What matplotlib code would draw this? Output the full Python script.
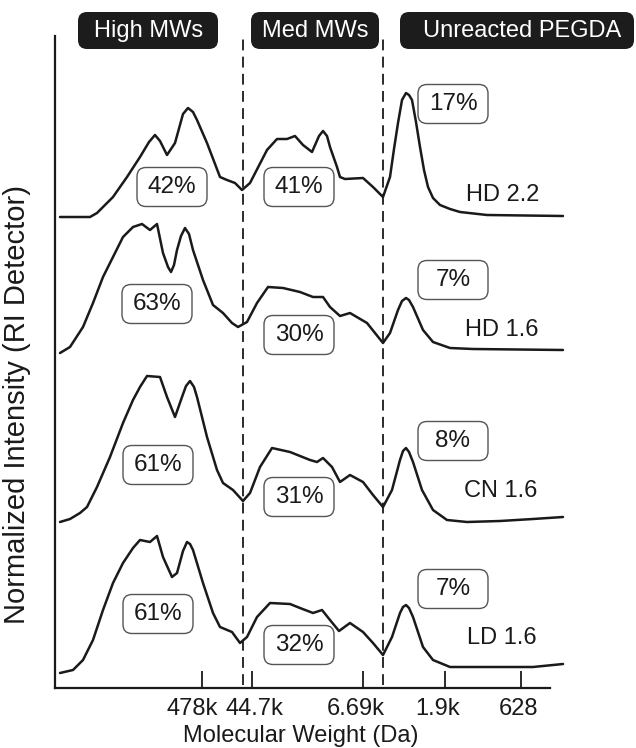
import matplotlib
matplotlib.use("Agg")
import matplotlib.pyplot as plt
import matplotlib.transforms as mtransforms
from matplotlib.patches import FancyBboxPatch

plt.rcParams['font.family'] = ['Liberation Sans', 'DejaVu Sans']

# ---------------- data ----------------
# elution position (arbitrary units) and detector signal above each trace's baseline
hd22_x = [0.5, 3.5, 4.2, 5.8, 7.2, 8.5, 9.4, 10.0, 10.5, 11.2, 12.0, 12.8, 13.3, 13.8, 14.2, 15.2,
          16.5, 17.2, 18.0, 18.7, 19.5, 21.2, 22.2, 23.2, 24.0, 24.8, 25.7, 26.4, 26.8, 27.2,
          27.5, 28.2, 28.5, 29.0, 30.8, 31.8, 32.8, 33.5, 33.9, 34.3, 34.7, 35.1, 35.4, 35.7,
          36.1, 36.5, 36.9, 37.3, 37.8, 38.5, 39.5, 40.5, 43.2, 50.8]
hd22_y = [0.00, 0.00, 0.04, 0.20, 0.40, 0.60, 0.75, 0.82, 0.76, 0.62, 0.74, 1.03, 1.09, 1.05, 0.97, 0.74,
          0.40, 0.37, 0.34, 0.27, 0.34, 0.67, 0.78, 0.78, 0.81, 0.72, 0.65, 0.81, 0.86, 0.81,
          0.70, 0.50, 0.40, 0.38, 0.39, 0.30, 0.20, 0.40, 0.68, 0.94, 1.17, 1.24, 1.22, 1.17,
          0.95, 0.70, 0.47, 0.30, 0.19, 0.12, 0.08, 0.05, 0.02, 0.01]

hd16_x = [0.5, 1.5, 2.8, 3.8, 4.8, 5.8, 6.8, 7.8, 8.7, 9.5, 10.2, 10.8, 11.3, 11.6, 11.9,
          12.2, 12.6, 13.0, 13.4, 13.8, 14.8, 15.8, 16.8, 17.7, 18.3, 19.2, 20.2, 21.3, 22.8, 24.5,
          25.8, 26.8, 27.5, 28.5, 29.5, 31.2, 32.8, 33.5, 34.3, 34.7, 35.1, 35.4, 35.8, 36.8, 37.8,
          39.5, 41.8, 50.8]
hd16_y = [0.00, 0.06, 0.26, 0.50, 0.76, 0.96, 1.16, 1.26, 1.29, 1.23, 1.29, 1.00, 0.86, 0.81, 0.88,
          1.03, 1.17, 1.25, 1.19, 1.03, 0.73, 0.48, 0.40, 0.30, 0.26, 0.31, 0.50, 0.66, 0.65, 0.61,
          0.56, 0.56, 0.46, 0.37, 0.40, 0.30, 0.10, 0.20, 0.43, 0.52, 0.55, 0.53, 0.46, 0.23, 0.11,
          0.05, 0.04, 0.03]

cn16_x = [0.5, 1.5, 2.5, 3.2, 4.2, 5.5, 6.8, 7.8, 8.5, 9.2, 10.5, 11.2, 12.0, 12.7, 13.1,
          13.5, 13.9, 14.2, 15.2, 16.2, 16.8, 17.8, 18.8, 19.5, 20.5, 21.7, 23.5, 25.5, 26.2, 26.8,
          27.7, 28.5, 29.5, 30.8, 31.8, 32.8, 33.7, 34.5, 34.8, 35.1, 35.4, 35.8, 36.7, 37.8, 39.2,
          41.2, 44.5, 47.8, 50.8]
cn16_y = [0.00, 0.03, 0.09, 0.15, 0.35, 0.65, 0.99, 1.22, 1.35, 1.46, 1.45, 1.25, 1.05, 1.25, 1.36,
          1.41, 1.35, 1.25, 0.85, 0.52, 0.39, 0.32, 0.21, 0.29, 0.55, 0.74, 0.70, 0.62, 0.60, 0.64,
          0.55, 0.40, 0.47, 0.40, 0.27, 0.15, 0.32, 0.62, 0.71, 0.74, 0.70, 0.60, 0.32, 0.12, 0.02,
          0.00, 0.01, 0.03, 0.05]

ld16_x = [0.5, 1.8, 2.8, 3.8, 4.8, 5.8, 6.8, 7.8, 8.5, 9.5, 10.2, 10.8, 11.7, 12.2, 12.8,
          13.2, 13.5, 13.8, 14.8, 15.8, 16.5, 17.7, 18.5, 19.2, 20.2, 21.5, 23.5, 24.5, 25.8, 26.7,
          27.5, 28.4, 29.5, 30.8, 31.8, 32.8, 33.7, 34.5, 34.8, 35.1, 35.4, 35.8, 36.8, 37.8, 39.5,
          41.8, 47.8, 50.8]
ld16_y = [0.00, 0.03, 0.13, 0.33, 0.63, 0.90, 1.10, 1.25, 1.33, 1.31, 1.37, 1.16, 0.96, 1.00, 1.22,
          1.31, 1.29, 1.23, 0.90, 0.60, 0.46, 0.41, 0.30, 0.36, 0.56, 0.70, 0.69, 0.65, 0.60, 0.63,
          0.53, 0.42, 0.50, 0.41, 0.30, 0.18, 0.36, 0.60, 0.66, 0.68, 0.65, 0.56, 0.26, 0.13, 0.06,
          0.06, 0.06, 0.09]

samples = ['HD 2.2', 'HD 1.6', 'CN 1.6', 'LD 1.6']
trace_x = [hd22_x, hd16_x, cn16_x, ld16_x]
trace_y = [hd22_y, hd16_y, cn16_y, ld16_y]
offsets = [4.71, 3.35, 1.66, 0.15]

high_pct = [42, 63, 61, 61]
med_pct = [41, 30, 31, 32]
unreacted_pct = [17, 7, 8, 7]

region_names = ['High MWs', 'Med MWs', 'Unreacted PEGDA']
region_bounds = [18.8, 32.8]

tick_pos = [14.7, 19.7, 30.8, 39.0, 46.6]
tick_labels = ['478k', '44.7k', '6.69k', '1.9k', '628']

# ---------------- layout ----------------
W, H = 636, 748
fig = plt.figure(figsize=(W / 100, H / 100), dpi=100)
ax = fig.add_axes([55 / W, (H - 688) / H, 510 / W, (688 - 36) / H])
ax.set_xlim(0, 51)
ax.set_ylim(0, 6.52)

ink = '#1a1a1a'
for s in ['top', 'right']:
    ax.spines[s].set_visible(False)
for s in ['left', 'bottom']:
    ax.spines[s].set_linewidth(1.6)
    ax.spines[s].set_color(ink)
ax.spines['bottom'].set_bounds(0, 49.5)

ax.set_yticks([])
ax.set_xticks(tick_pos)
ax.set_xticklabels(tick_labels, fontsize=17, color=ink)
ax.tick_params(axis='x', direction='in', length=12, width=1.3, color=ink, pad=7)
for lab, dx in zip(ax.get_xticklabels(), [-10, 2, -7, -7, -3]):
    lab.set_transform(lab.get_transform() +
                      mtransforms.ScaledTranslation(dx / 100, 0, fig.dpi_scale_trans))

ax.set_xlabel('Molecular Weight (Da)', fontsize=17, color=ink)
ax.xaxis.set_label_coords((301 - 55) / 510, (688 - 742) / 652)
ax.xaxis.label.set_va('baseline')
ax.set_ylabel('Normalized Intensity (RI Detector)', fontsize=21, color=ink)
ax.yaxis.set_label_coords((17 - 55) / 510, (688 - 404) / 652)
ax.yaxis.label.set_va('center')

# dashed region boundaries
ax.vlines(region_bounds, 0.03, 6.50, colors=ink, linewidth=1.3,
          linestyles=[(0, (6, 3.5))], clip_on=False)

# traces
for xs, ys, off in zip(trace_x, trace_y, offsets):
    ax.plot(xs, [off + v for v in ys], color=ink, lw=1.8, clip_on=False,
            solid_joinstyle='round', solid_capstyle='round')

# percentage boxes
high_pos = [(11.7, 5.01), (10.2, 3.84), (10.3, 2.23), (10.3, 0.74)]
med_pos = [(24.4, 5.01), (24.4, 3.53), (24.4, 1.91), (24.4, 0.43)]
unr_pos = [(39.8, 5.84), (39.8, 4.08), (39.8, 2.47), (39.8, 0.99)]
name_pos = [(44.8, 4.93), (44.7, 3.58), (44.6, 1.97), (44.7, 0.50)]

bw, bh = 7.0, 0.39


def pct_box(xc, yc, txt):
    p = FancyBboxPatch((xc - bw / 2, yc - bh / 2), bw, bh,
                       boxstyle='round,pad=0,rounding_size=0.9', mutation_aspect=0.1,
                       facecolor='white', edgecolor='#555555', linewidth=1.0,
                       clip_on=False, zorder=3)
    ax.add_patch(p)
    ax.text(xc, yc, txt, ha='center', va='center', fontsize=17.5, color=ink, zorder=4)


for i in range(4):
    pct_box(*high_pos[i], f'{high_pct[i]}%')
    pct_box(*med_pos[i], f'{med_pct[i]}%')
    pct_box(*unr_pos[i], f'{unreacted_pct[i]}%')
    ax.text(*name_pos[i], samples[i], ha='center', va='center', fontsize=17, color=ink)

# header boxes (figure pixel layout)
hdr_boxes = [(78, 218), (251, 379), (400, 634)]
hdr_text_x = [149, 315, 522]
for (x0, x1), tx, name in zip(hdr_boxes, hdr_text_x, region_names):
    p = FancyBboxPatch((x0 / W, (H - 49) / H), (x1 - x0) / W, 37 / H,
                       boxstyle='round,pad=0,rounding_size=%f' % (9 / W),
                       mutation_aspect=W / H, transform=fig.transFigure,
                       facecolor='#1c1c1c', edgecolor='none')
    fig.patches.append(p)
    fig.text(tx / W, (H - 37) / H, name, ha='center', va='baseline',
             fontsize=17, color='white')

fig.savefig('out.png', dpi=100)
